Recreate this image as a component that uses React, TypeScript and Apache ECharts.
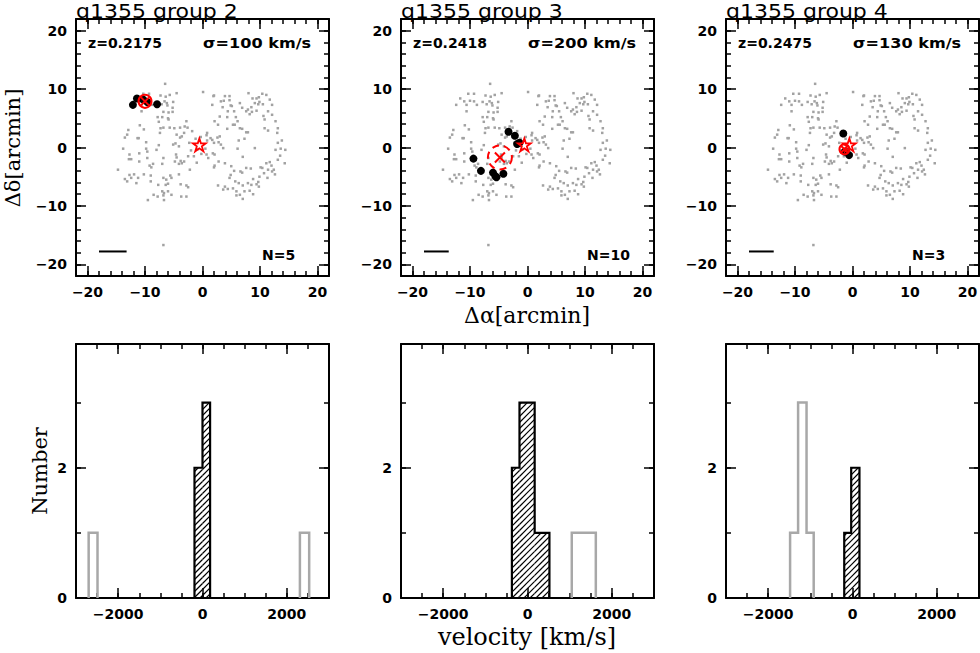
import React, { useEffect, useRef } from 'react';
import * as echarts from 'echarts';

// ---------- data ----------
const groupNames = ['q1355 group 2', 'q1355 group 3', 'q1355 group 4'];
const redshifts = ['0.2175', '0.2418', '0.2475'];
const sigmas = [100, 200, 130];
const memberCounts = [5, 10, 3];

// background galaxies (arcmin offsets), same field in every panel
const fieldLeft = [
  [-6.5, 10.9], [-10.3, 9.2], [-9.3, 9.2], [-7.3, 8.9], [-6.4, 8.7], [-5.7, 9.0], [-4.5, 9.3],
  [-11.7, 8.4], [-11.0, 7.9], [-10.0, 8.0], [-9.3, 7.9], [-7.8, 7.8], [-6.6, 7.9], [-6.2, 7.6], [-5.1, 7.8],
  [-12.4, 7.3], [-10.6, 7.3], [-8.8, 7.3], [-7.1, 7.4], [-6.1, 7.2], [-5.2, 6.8],
  [-10.6, 6.2], [-6.8, 6.1], [-5.9, 6.0], [-5.2, 6.1],
  [-7.8, 5.2], [-7.0, 5.2], [-6.0, 5.0], [-5.9, 4.8],
  [-7.6, 4.4], [-2.8, 4.5], [-10.9, 3.8], [-10.2, 3.1], [-6.8, 3.4], [-5.7, 3.4], [-4.9, 3.3], [-3.9, 3.4], [-3.1, 3.6], [-2.6, 3.4],
  [-12.9, 3.0], [-13.1, 2.2], [-13.5, 1.7], [-11.3, 1.6], [-11.1, 1.6], [-9.8, 0.9], [-7.4, 2.5], [-7.3, 3.3], [-4.5, 2.2], [-3.9, 1.7], [-3.2, 2.5], [-3.6, 1.9],
  [-4.7, 0.7], [-5.1, 0.5], [-4.1, 0.2],
  [-13.8, -0.2], [-12.7, -1.2], [-12.8, -2.0], [-12.4, -2.0], [-11.0, -1.0], [-9.8, -0.2], [-9.6, -0.7], [-8.0, -0.4], [-7.6, 0.4], [-6.8, -1.8], [-4.6, -1.2], [-4.5, -1.7], [-2.5, -1.5],
  [-11.0, -2.4], [-9.6, -1.8], [-9.2, -3.1], [-8.9, -3.4], [-8.6, -2.8], [-7.0, -2.8], [-4.8, -2.4], [-4.1, -2.8], [-3.2, -2.4], [-3.8, -2.3],
  [-14.7, -3.8], [-13.5, -5.4], [-12.7, -4.7], [-12.4, -5.2], [-11.9, -4.6], [-11.2, -5.2], [-10.2, -4.6], [-11.5, -6.1], [-13.1, -5.8], [-9.0, -4.8], [-9.0, -5.8],
  [-7.7, -6.4], [-6.8, -5.2], [-6.3, -5.5], [-5.6, -4.8], [-5.4, -5.2], [-4.1, -4.6], [-3.6, -2.7], [-2.2, -3.8], [-6.0, -6.2], [-6.4, -6.4],
  [-3.8, -6.3], [-2.8, -6.5], [-2.5, -6.8],
  [-7.0, -7.5], [-6.7, -7.8], [-6.0, -7.5], [-8.5, -8.1], [-7.8, -8.4], [-6.8, -8.2], [-5.4, -8.1], [-9.5, -9.0], [-6.7, -9.0], [-3.7, -8.4], [-2.8, -8.4],
  [-6.8, -16.7],
  [-1.8, 2.8], [-1.2, 1.5], [-0.8, -0.3], [-1.5, -1.5], [-2.0, -0.5], [-0.3, 1.8], [-1.0, -2.6], [-2.3, 0.8],
];
const fieldRight = [
  [0.1, 9.5], [2.0, 8.9], [1.9, 8.8], [3.9, 8.8], [4.7, 8.8], [3.2, 7.9], [3.7, 8.0], [4.7, 8.1], [8.0, 9.3], [8.7, 8.4], [9.4, 8.4], [9.8, 8.6],
  [10.4, 9.2], [11.1, 9.0], [11.7, 8.2], [9.9, 7.8], [9.1, 7.6], [9.7, 7.4], [10.5, 7.4], [12.1, 7.3], [4.9, 7.2], [5.1, 7.1], [3.5, 6.9], [1.7, 7.3],
  [6.5, 7.6], [6.9, 6.8], [8.5, 6.9], [7.9, 6.5], [7.6, 6.2], [8.6, 6.1], [9.4, 6.3], [8.2, 5.7], [5.5, 6.2], [4.4, 6.2], [11.4, 6.2], [12.1, 5.6],
  [10.6, 5.4], [10.8, 4.8], [5.8, 5.2], [6.1, 4.5], [4.3, 5.2], [3.0, 5.3], [2.1, 4.5], [2.7, 3.9], [5.3, 3.9], [5.6, 3.9], [6.5, 3.3], [6.9, 3.2],
  [4.3, 3.2], [10.8, 3.3], [11.4, 2.9], [12.7, 4.5], [13.1, 3.3], [13.0, 2.5], [7.9, 2.6], [7.6, 2.6], [0.8, 2.5], [0.7, 2.1], [1.4, 1.6], [1.7, 1.3],
  [0.8, 1.2], [2.6, 1.7], [3.0, 1.9], [2.8, 0.9], [3.2, 0.5], [3.6, -0.1], [2.0, 0.8], [1.8, -1.0], [2.1, -1.2], [0.5, -0.2], [0.7, -1.2], [-0.2, -1.1],
  [7.3, 1.5], [6.3, 1.2], [9.1, -0.1], [6.1, -0.2], [13.1, 0.8], [13.8, 1.2], [14.4, -0.4], [13.6, -0.2], [12.7, -0.4], [13.5, -1.4], [13.1, -2.1], [14.3, -2.7],
  [7.0, -1.6], [2.8, -2.4], [1.0, -1.8], [2.1, -3.1], [2.0, -3.4], [3.9, -2.7], [5.0, -3.2], [6.6, -4.1], [6.9, -4.3], [5.5, -4.0], [7.6, -3.5], [8.4, -3.6],
  [10.1, -3.4], [10.4, -3.5], [11.1, -2.7], [11.7, -2.5], [12.0, -3.1], [11.4, -3.8], [12.1, -4.1], [12.4, -3.8], [10.7, -4.4], [12.6, -4.6], [11.3, -5.2],
  [4.9, -4.7], [4.7, -5.2], [8.8, -5.4], [9.4, -6.3], [9.9, -5.0], [9.8, -6.7], [9.7, -5.9], [8.5, -6.4], [7.9, -6.1], [7.0, -6.5], [6.3, -6.1], [5.7, -5.8],
  [3.9, -6.7], [3.6, -7.2], [4.4, -7.1], [5.3, -7.0], [5.9, -7.5], [7.3, -7.5], [8.2, -7.4], [8.8, -8.0], [5.9, -8.2], [6.5, -8.1], [7.0, -8.8], [2.7, -6.5],
];

const members2 = [[-12.1, 7.3], [-11.4, 8.4], [-10.3, 8.2], [-9.6, 7.8], [-7.9, 7.4]];
const members3 = [[-3.3, 2.7], [-2.2, 2.0], [-1.8, 0.6], [-1.4, 0.8], [-9.4, -1.9], [-8.1, -4.0], [-6.0, -4.3], [-5.6, -4.9], [-5.4, -5.1], [-4.2, -4.5]];
const members4 = [[-1.6, 2.4], [-1.3, -0.7], [-0.6, -1.3]];
const groupCentres = [[-10.0, 7.9], [-4.8, -1.7], [-1.4, -0.3]];
const quasarPos = [-0.55, 0.45];
const scaleBarStart = [-18.0, -17.8];
const scaleBarLengths = [4.8, 4.3, 4.3];

// velocity histograms: [binStart, binEnd, count]
const memberHist2 = [[-190, 0, 2], [0, 180, 3]];
const otherHist2 = [[-2700, -2490, 1], [2310, 2530, 1]];
const memberHist3 = [[-370, -190, 2], [-190, -10, 3], [-10, 170, 3], [170, 350, 1], [350, 520, 1]];
const otherHist3 = [[1050, 1240, 1], [1240, 1430, 1], [1430, 1620, 1]];
const memberHist4 = [[-196, -31, 1], [-31, 165, 2]];
const otherHist4 = [[-1480, -1290, 1], [-1290, -1090, 3], [-1090, -920, 1]];

const posTicks = [-20, -10, 0, 10, 20];
const velTicks = [-2000, 0, 2000];
const numLabels = [0, 2];
const numMajor = [0, 2];

// ---------- layout / style ----------
const COLS = [76, 401, 726];
const PW = 253;
const TOP = { top: 19, height: 257 };
const BOT = { top: 344, height: 254 };
const circleSizes = [13, 24, 10];
const GRAY = '#a2a2a2';
const RED = '#ff0000';
const STAR = 'path://M50,0 L61.8,35.4 L99,35.4 L69.1,57.3 L80.9,92.7 L50,70.8 L19.1,92.7 L30.9,57.3 L1,35.4 L38.2,35.4 Z';
const CROSS = 'path://M0,0L10,10M10,0L0,10';

const fmt = (v: number) => (v < 0 ? '\u2212' + Math.abs(v) : String(v));

function addAxes(list: any[], gridIndex: number, dim: 'x' | 'y', cfg: any) {
  const base = { gridIndex, type: 'value', min: cfg.min, max: cfg.max, splitLine: { show: false } };
  const posA = dim === 'x' ? 'bottom' : 'left';
  const posB = dim === 'x' ? 'top' : 'right';
  const tickStyle = { color: '#000', width: 1.5 };
  const lineStyle = { color: '#000', width: 2 };
  const mainIndex = list.length;
  list.push({
    ...base, position: posA,
    axisLine: { show: true, onZero: false, lineStyle },
    axisTick: { show: true, inside: true, length: 10, customValues: cfg.majors, lineStyle: tickStyle },
    axisLabel: {
      show: true, customValues: cfg.labels, margin: 9, color: '#000',
      fontFamily: 'DejaVu Sans', fontWeight: 'bold', fontSize: 14, formatter: fmt,
    },
  });
  list.push({
    ...base, position: posA, interval: cfg.minor,
    axisLine: { show: false, onZero: false },
    axisTick: { show: true, inside: true, length: 5, lineStyle: tickStyle },
    axisLabel: { show: false },
  });
  list.push({
    ...base, position: posB,
    axisLine: { show: true, onZero: false, lineStyle },
    axisTick: { show: true, inside: true, length: 10, customValues: cfg.majors, lineStyle: tickStyle },
    axisLabel: { show: false },
  });
  list.push({
    ...base, position: posB, interval: cfg.minor,
    axisLine: { show: false, onZero: false },
    axisTick: { show: true, inside: true, length: 5, lineStyle: tickStyle },
    axisLabel: { show: false },
  });
  return mainIndex;
}

function outline(bins: number[][]) {
  const blocks: number[][][] = [];
  let cur: number[][] | null = null;
  let prevEnd: number | null = null;
  bins.forEach(([s, e, c]) => {
    if (cur === null || prevEnd !== s) {
      if (cur) { cur.push([prevEnd as number, 0]); blocks.push(cur); }
      cur = [[s, 0]];
    }
    cur.push([s, c], [e, c]);
    prevEnd = e;
  });
  if (cur) { (cur as number[][]).push([prevEnd as number, 0]); blocks.push(cur); }
  return blocks;
}

function hatchRender(params: any, api: any) {
  const s = api.value(0), e = api.value(1), c = api.value(2);
  const p0 = api.coord([s, 0]);
  const p1 = api.coord([e, c]);
  const x0 = p0[0], x1 = p1[0], yTop = p1[1], yBot = p0[1];
  const step = 6;
  const children: any[] = [];
  const cStart = Math.ceil((x0 + yTop) / step) * step;
  for (let k = cStart; k <= x1 + yBot; k += step) {
    const xa = Math.max(x0, k - yBot);
    const xb = Math.min(x1, k - yTop);
    if (xb > xa) {
      children.push({
        type: 'line',
        shape: { x1: xa, y1: k - xa, x2: xb, y2: k - xb },
        style: { stroke: '#000', lineWidth: 1.2 },
      });
    }
  }
  return { type: 'group', children };
}

export default function App() {
  const ref = useRef<HTMLDivElement>(null);
  useEffect(() => {
    if (!ref.current) return;
    const chart = echarts.init(ref.current, null, { renderer: 'svg' });
    const grids: any[] = [];
    const xAxes: any[] = [];
    const yAxes: any[] = [];
    const series: any[] = [];
    const graphic: any[] = [];
    const field = fieldLeft.concat(fieldRight);
    const membersAll = [members2, members3, members4];
    const memberHists = [memberHist2, memberHist3, memberHist4];
    const otherHists = [otherHist2, otherHist3, otherHist4];

    for (let i = 0; i < 3; i++) {
      const L = COLS[i];
      // ---- top: sky positions ----
      const gi = grids.length;
      grids.push({ left: L, top: TOP.top, width: PW, height: TOP.height, outerBoundsMode: 'none' });
      const xi = addAxes(xAxes, gi, 'x', { min: -22, max: 22, minor: 2, majors: posTicks, labels: posTicks });
      const yi = addAxes(yAxes, gi, 'y', { min: -22, max: 22, minor: 2, majors: posTicks, labels: posTicks });
      const ax = { xAxisIndex: xi, yAxisIndex: yi };
      series.push({
        ...ax, type: 'scatter', data: field, symbol: 'rect', symbolSize: 2.5,
        itemStyle: { color: GRAY, opacity: 1 }, silent: true,
      });
      series.push({
        ...ax, type: 'line', data: [scaleBarStart, [scaleBarStart[0] + scaleBarLengths[i], scaleBarStart[1]]],
        symbol: 'none', lineStyle: { color: '#000', width: 2 },
      });
      series.push({
        ...ax, type: 'scatter', data: membersAll[i], symbol: 'circle', symbolSize: 8,
        itemStyle: { color: '#000', opacity: 1 },
      });
      series.push({
        ...ax, type: 'scatter', data: [groupCentres[i]], symbol: 'circle', symbolSize: circleSizes[i],
        itemStyle: { color: 'rgba(0,0,0,0)', opacity: 1, borderColor: RED, borderWidth: 2, borderType: i === 1 ? [7, 5] : 'solid' },
      });
      series.push({
        ...ax, type: 'scatter', data: [groupCentres[i]], symbol: CROSS, symbolSize: i === 1 ? 10 : 8,
        itemStyle: { color: 'rgba(0,0,0,0)', opacity: 1, borderColor: RED, borderWidth: 2 },
      });
      series.push({
        ...ax, type: 'scatter', data: [quasarPos], symbol: STAR, symbolSize: 13,
        itemStyle: { color: 'rgba(0,0,0,0)', opacity: 1, borderColor: RED, borderWidth: 1.8 },
      });

      graphic.push({
        type: 'text', x: L, y: 11, scaleX: 1.1,
        style: { text: groupNames[i], font: '20px "DejaVu Sans"', fill: '#000', align: 'left', verticalAlign: 'middle' },
      });
      graphic.push({
        type: 'text', x: L + 12, y: 43,
        style: { text: 'z=' + redshifts[i], font: 'bold 14px "DejaVu Sans"', fill: '#000', align: 'left', verticalAlign: 'middle' },
      });
      graphic.push({
        type: 'text', x: L + 127, y: 43, scaleX: 1.15,
        style: { text: '\u03c3=' + sigmas[i] + ' km/s', font: 'bold 14px "DejaVu Sans"', fill: '#000', align: 'left', verticalAlign: 'middle' },
      });
      graphic.push({
        type: 'text', x: L + 186, y: 255,
        style: { text: 'N=' + memberCounts[i], font: 'bold 14px "DejaVu Sans"', fill: '#000', align: 'left', verticalAlign: 'middle' },
      });

      // ---- bottom: velocity histograms ----
      const gb = grids.length;
      grids.push({ left: L, top: BOT.top, width: PW, height: BOT.height, outerBoundsMode: 'none' });
      const xb = addAxes(xAxes, gb, 'x', { min: -3000, max: 3000, minor: 500, majors: velTicks, labels: velTicks });
      const yb = addAxes(yAxes, gb, 'y', { min: 0, max: 3.9, minor: 1, majors: numMajor, labels: numLabels });
      const bx = { xAxisIndex: xb, yAxisIndex: yb };
      series.push({
        ...bx, type: 'custom', renderItem: hatchRender, data: memberHists[i],
        encode: { x: [0, 1], y: 2 }, clip: true,
      });
      outline(otherHists[i]).forEach((blk) => {
        series.push({
          ...bx, type: 'line', data: blk, symbol: 'none',
          lineStyle: { color: '#a8a8a8', width: 2.5, join: 'miter' },
        });
      });
      outline(memberHists[i]).forEach((blk) => {
        series.push({
          ...bx, type: 'line', data: blk, symbol: 'none',
          lineStyle: { color: '#000', width: 2.2, join: 'miter' },
        });
      });
    }

    graphic.push({
      type: 'text', x: 13, y: 148, rotation: Math.PI / 2,
      style: { text: '\u0394\u03b4[arcmin]', font: '21px "DejaVu Serif"', fill: '#000', align: 'center', verticalAlign: 'middle' },
    });
    graphic.push({
      type: 'text', x: 527, y: 315,
      style: { text: '\u0394\u03b1[arcmin]', font: '22px "DejaVu Serif"', fill: '#000', align: 'center', verticalAlign: 'middle' },
    });
    graphic.push({
      type: 'text', x: 40, y: 471, rotation: Math.PI / 2,
      style: { text: 'Number', font: '21px "DejaVu Serif"', fill: '#000', align: 'center', verticalAlign: 'middle' },
    });
    graphic.push({
      type: 'text', x: 527, y: 637,
      style: { text: 'velocity [km/s]', font: '24px "DejaVu Serif"', fill: '#000', align: 'center', verticalAlign: 'middle' },
    });

    chart.setOption({
      animation: false,
      backgroundColor: '#fff',
      textStyle: { fontFamily: 'DejaVu Sans' },
      grid: grids,
      xAxis: xAxes,
      yAxis: yAxes,
      series,
      graphic,
    });
    return () => chart.dispose();
  }, []);
  return <div ref={ref} style={{ position: 'absolute', left: 0, top: 0, width: 980, height: 653 }} />;
}
